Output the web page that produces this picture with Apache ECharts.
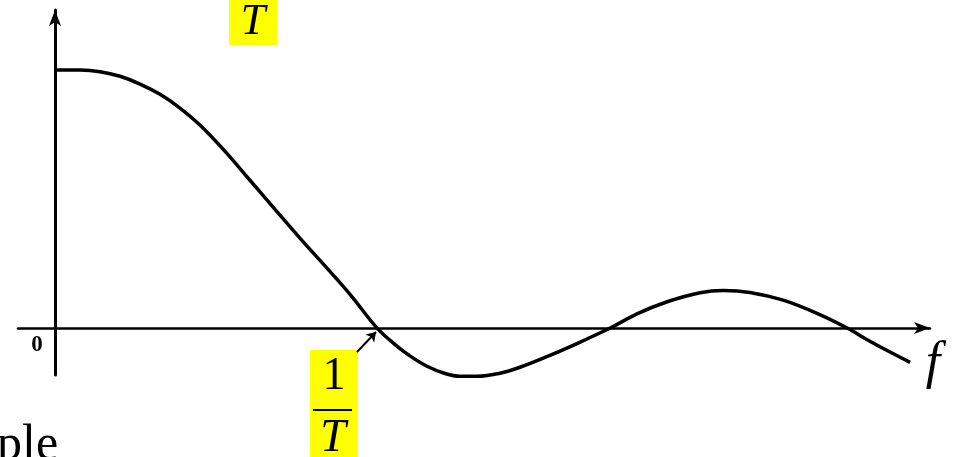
<!DOCTYPE html>
<html>
<head>
<meta charset="utf-8">
<script src="https://cdn.jsdelivr.net/npm/echarts@6/dist/echarts.min.js"></script>
<style>
  html, body { margin: 0; padding: 0; background: #fff; }
  #chart { width: 965px; height: 457px; }
</style>
</head>
<body>
<div id="chart"></div>
<script>
// frequency in units of 1/T, amplitude relative to the peak (T)
const freqs = [0.0, 0.078, 0.140, 0.202, 0.264, 0.326, 0.388, 0.450, 0.528, 0.606,
  0.683, 0.761, 0.839, 0.916, 1.0, 1.056, 1.102, 1.155, 1.211, 1.258,
  1.311, 1.382, 1.444, 1.516, 1.621, 1.724, 1.807, 1.901, 2.003, 2.075,
  2.158, 2.261, 2.366, 2.460, 2.522, 2.593, 2.655];
const amps = [1.0, 1.0, 0.994, 0.976, 0.946, 0.906, 0.853, 0.787, 0.685, 0.572,
  0.460, 0.348, 0.240, 0.131, 0.0, -0.064, -0.108, -0.148, -0.176, -0.187,
  -0.187, -0.175, -0.152, -0.117, -0.060, 0.0, 0.055, 0.102, 0.137, 0.146,
  0.138, 0.108, 0.057, 0.0, -0.045, -0.093, -0.133];

const topLabel = 'T';
const zeroLabel = '0';
const crossNum = '1';
const crossDen = 'T';
const axisName = 'f';
const cutText = 'ple';

const serif = '"Liberation Serif", "DejaVu Serif", serif';
const chart = echarts.init(document.getElementById('chart'));

const option = {
  backgroundColor: '#ffffff',
  animation: false,
  grid: { left: 18, right: 35, top: 10, bottom: 82 },
  xAxis: {
    type: 'value',
    min: -0.115,
    max: 2.717,
    axisLine: {
      onZero: true,
      symbol: ['none', 'arrow'],
      symbolSize: [9, 16],
      lineStyle: { color: '#000', width: 2.5 }
    },
    axisTick: { show: false },
    axisLabel: { show: false },
    splitLine: { show: false }
  },
  yAxis: {
    type: 'value',
    min: -0.182,
    max: 1.233,
    axisLine: {
      show: true,
      onZero: true,
      symbol: ['none', 'arrow'],
      symbolSize: [9, 16],
      lineStyle: { color: '#000', width: 3 }
    },
    axisTick: { show: false },
    axisLabel: { show: false },
    splitLine: { show: false }
  },
  series: [{
    type: 'line',
    data: freqs.map((f, i) => [f, amps[i]]),
    smooth: 0.35,
    showSymbol: false,
    clip: false,
    lineStyle: { color: '#000', width: 3.5 },
    markLine: {
      silent: true,
      symbol: ['none', 'arrow'],
      symbolSize: 9,
      label: { show: false },
      lineStyle: { color: '#000', width: 2, type: 'solid' },
      data: [[{ x: 357, y: 352 }, { x: 376, y: 332 }]]
    }
  }],
  graphic: [
    { type: 'rect', left: 229, top: 0, shape: { width: 48, height: 45 }, style: { fill: '#ffff00' } },
    { type: 'text', x: 253, y: 22, style: { text: topLabel, font: 'italic 44px ' + serif, fill: '#000', textAlign: 'center', textVerticalAlign: 'middle' } },
    { type: 'rect', left: 310, top: 350, shape: { width: 48, height: 107 }, style: { fill: '#ffff00' } },
    { type: 'text', x: 334, y: 377, style: { text: crossNum, font: '46px ' + serif, fill: '#000', textAlign: 'center', textVerticalAlign: 'middle' } },
    { type: 'rect', left: 313, top: 409, shape: { width: 39, height: 2 }, style: { fill: '#000' } },
    { type: 'text', x: 333, y: 439, style: { text: crossDen, font: 'italic 46px ' + serif, fill: '#000', textAlign: 'center', textVerticalAlign: 'middle' } },
    { type: 'text', x: 37, y: 345, style: { text: zeroLabel, font: 'bold 23px ' + serif, fill: '#000', textAlign: 'center', textVerticalAlign: 'middle' } },
    { type: 'text', x: 933, y: 364, style: { text: axisName, font: 'italic 52px ' + serif, fill: '#000', textAlign: 'center', textVerticalAlign: 'middle' } },
    { type: 'text', x: -3, y: 471, style: { text: cutText, font: '50px ' + serif, fill: '#000', textAlign: 'left', textVerticalAlign: 'bottom' } }
  ]
};

chart.setOption(option);
</script>
</body>
</html>
